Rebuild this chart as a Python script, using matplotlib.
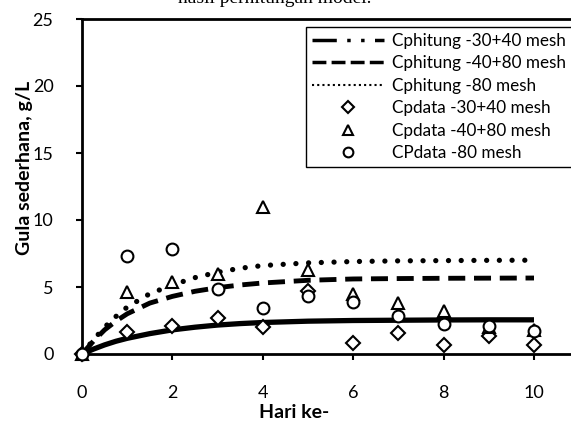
# -*- coding: utf-8 -*-
"""
Gula sederhana vs hari: model (Cphitung) dan data (Cpdata) per ukuran mesh.
"""

import matplotlib
matplotlib.use('Agg')
import matplotlib.pyplot as plt
from matplotlib.lines import Line2D

plt.rcParams['font.family'] = ['Lato', 'DejaVu Sans']

#%% Data
hari = [0, 1, 2, 3, 4, 5, 6, 7, 8, 9, 10]
cp_30_40 = [0, 1.65, 2.1, 2.65, 2.05, 4.7, 0.8, 1.55, 0.65, 1.35, 0.65]
cp_40_80 = [0, 4.65, 5.35, 6.0, 11.0, 6.3, 4.5, 3.8, 3.2, 2.0, 1.8]
cp_80 = [0, 7.3, 7.8, 4.85, 3.4, 4.3, 3.85, 2.85, 2.25, 2.1, 1.7]

# model curves
t_model = [0, 0.25, 0.5, 0.75, 1, 1.5, 2, 2.5, 3, 3.5, 4, 5, 6, 7, 8, 9, 10]
ch_30_40 = [0, 0.36, 0.68, 0.95, 1.17, 1.52, 1.8, 2.0, 2.16, 2.27, 2.35, 2.45,
            2.5, 2.52, 2.54, 2.55, 2.55]
ch_40_80 = [0, 0.95, 1.8, 2.45, 3.0, 3.8, 4.3, 4.68, 4.95, 5.15, 5.3, 5.5,
            5.6, 5.63, 5.65, 5.66, 5.67]
ch_80 = [0, 1.05, 2.0, 2.8, 3.5, 4.5, 5.15, 5.7, 6.1, 6.4, 6.6, 6.8, 6.9,
         6.95, 6.97, 6.99, 7.0]

labels = ['Cphitung -30+40 mesh', 'Cphitung -40+80 mesh', 'Cphitung -80 mesh',
          'Cpdata -30+40 mesh', 'Cpdata -40+80 mesh', 'CPdata -80 mesh']

#%% Figure
fig = plt.figure(figsize=(5.71, 4.21), dpi=100)
ax = fig.add_axes([82/571, 67/421, 489/571, 335/421])

ax.plot(t_model, ch_30_40, color='k', linewidth=3.8, solid_capstyle='butt')
ax.plot(t_model, ch_40_80, color='k', linewidth=3.5,
        linestyle=(0, (3.5, 1.8)))
ax.plot(t_model, ch_80, color='k', linewidth=3.8,
        linestyle=(0, (0.01, 2.4)), dash_capstyle='round')

mk = dict(linestyle='none', markerfacecolor='white', markeredgecolor='k',
          markeredgewidth=1.5, clip_on=False, zorder=5)
ax.plot(hari, cp_30_40, marker='D', markersize=7, **mk)
ax.plot(hari, cp_40_80, marker='^', markersize=8.5, **mk)
ax.plot(hari, cp_80, marker='o', markersize=8.5, **mk)

# legend handles
handles = [
    Line2D([], [], color='k', linewidth=2.5, linestyle=(0, (7, 3, 1, 3, 1, 3))),
    Line2D([], [], color='k', linewidth=2.5, linestyle=(0, (4, 1.5))),
    Line2D([], [], color='k', linewidth=1.5, linestyle=(0, (1, 1.5))),
    Line2D([], [], linestyle='none', marker='D', markersize=6,
           markerfacecolor='white', markeredgecolor='k', markeredgewidth=1.5),
    Line2D([], [], linestyle='none', marker='^', markersize=7,
           markerfacecolor='white', markeredgecolor='k', markeredgewidth=1.5),
    Line2D([], [], linestyle='none', marker='o', markersize=7,
           markerfacecolor='white', markeredgecolor='k', markeredgewidth=1.5),
]
leg = ax.legend(handles, labels, loc='upper left',
                bbox_to_anchor=(224/489, 327/335), fontsize=12.3,
                handlelength=4.2, handletextpad=0.5, labelspacing=0.38,
                borderpad=0.35, frameon=True, fancybox=False,
                framealpha=1.0, borderaxespad=0)
leg.get_frame().set_edgecolor('k')
leg.get_frame().set_linewidth(1.0)

ax.set_xlim(0, 489/45.2)
ax.set_ylim(0, 25)
ax.set_xticks([0, 2, 4, 6, 8, 10])
ax.set_yticks([0, 5, 10, 15, 20, 25])
ax.tick_params(axis='both', labelsize=13, width=1.5, length=4.5,
               direction='out')
ax.tick_params(axis='y', pad=16)
ax.tick_params(axis='x', pad=18)
for side in ['left', 'bottom', 'top']:
    ax.spines[side].set_linewidth(2)
ax.spines['right'].set_visible(False)

ax.set_xlabel('Hari ke-', fontsize=14, fontweight='bold')
ax.set_ylabel('Gula sederhana, g/L', fontsize=14, fontweight='bold')
ax.xaxis.set_label_coords(212/489, -50/335)
ax.yaxis.set_label_coords(-49/489, 186/335)

# caption cut off at the top of the picture
fig.text(275/571, 418/421, 'hasil perhitungan model.',
         family='Liberation Serif', fontsize=14, ha='center', va='baseline')

plt.savefig('out.png', dpi=100)
